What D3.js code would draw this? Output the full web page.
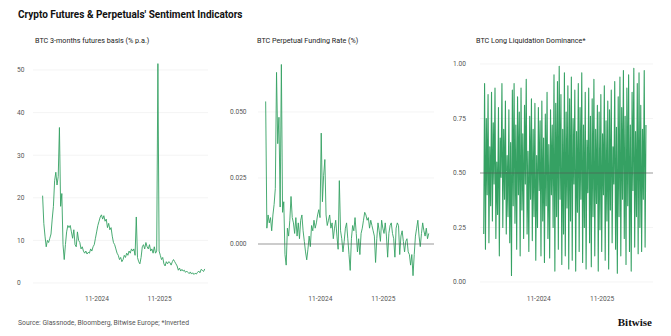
<!DOCTYPE html>
<html>
<head>
<meta charset="utf-8">
<script src="https://cdn.jsdelivr.net/npm/d3@7"></script>
<style>
  body { margin: 0; background: #fff; }
  svg text { font-family: Roboto, "Noto Sans", sans-serif; }
</style>
</head>
<body>
<div id="chart"></div>
<script>
// dates: first observation and step between observations (days)
const startDate = new Date(2023, 11, 20);
const xDomain = [new Date(2023, 9, 25), new Date(2026, 7, 10)];
const xTickDates = [new Date(2024, 10, 1), new Date(2025, 10, 1)];
const xTickLabels = ["11-2024", "11-2025"];

// BTC 3-months futures basis (% p.a.), weekly
const basisStep = 7;
const basisValues = [
  20.5, 14, 11, 8.5, 10, 9.5, 10.5, 11.5, 15, 18,
  24, 26, 23, 25, 36.5, 18, 21, 9, 5.5, 9,
  12, 13.5, 13, 13.5, 12, 10.5, 12.5, 9, 8.5, 12,
  10, 9.5, 8, 8.5, 7.5, 7, 7.5, 6.8, 7.2, 7,
  8, 7.5, 8.5, 9, 10.5, 12, 13.5, 14.5, 15.5, 16,
  15, 15.8, 14.5, 15, 13, 14, 12.5, 13, 11, 9.5,
  9, 8, 7, 6.5, 5.5, 6, 5, 5.5, 6.5, 6,
  7, 6.5, 7.5, 7, 8, 7.5, 8, 6.5, 15.5, 6,
  5, 4.5, 6, 8.5, 9, 8, 9.5, 8.5, 8, 9,
  7.5, 8, 7, 8.5, 7, 7.5, 51.5, 7.5, 6.5, 5.5,
  6, 4.5, 4, 5, 4.5, 5, 4.8, 4.2, 5, 5.5,
  5, 4.5, 4, 3, 3.5, 2.8, 3.2, 2.8, 3, 2.5,
  2.8, 2.5, 2.2, 2.6, 2.1, 2.4, 2.0, 2.3, 2.1, 2.5,
  2.8, 2.4, 3.2, 3.0, 2.7, 3.3
];
const basisTicks = [0, 10, 20, 30, 40, 50];

// BTC perpetual funding rate (%), weekly
const fundingStep = 7;
const fundingValues = [
  0.054, 0.006, 0.011, 0.008, 0.010, 0.005, 0.011, 0.015, 0.021, 0.065,
  0.038, 0.048, 0.014, 0.068, 0.012, 0.016, -0.004, -0.008, 0.006, 0.003,
  0.009, 0.018, 0.010, 0.008, 0.004, 0.010, 0.003, 0.008, 0.002, 0.009,
  0.011, 0.005, 0.001, -0.003, -0.006, -0.002, 0.003, -0.001, 0.007, 0.005,
  0.009, 0.006, 0.008, 0.011, 0.013, 0.010, 0.042, 0.016, 0.026, 0.032,
  0.011, 0.007, 0.009, 0.011, 0.006, 0.008, 0.002, 0.006, 0.009, 0.003,
  -0.002, 0.024, 0.005, 0.002, -0.003, 0.001, 0.006, 0.008, 0.002, -0.004,
  -0.010, 0.002, 0.007, 0.005, 0.010, 0.004, -0.003, 0.002, -0.004, 0.004,
  0.006, 0.009, 0.012, 0.011, 0.009, 0.010, 0.006, 0.009, 0.007, 0.005,
  0.003, -0.007, 0.002, 0.008, 0.005, 0.001, 0.009, 0.006, 0.004, 0.008,
  0.003, -0.005, 0.004, 0.007, 0.008, 0.004, 0.002, -0.005, 0.006, 0.008,
  0.007, -0.004, 0.003, 0.005, 0.001, -0.003, 0.001, 0.002, -0.003, -0.004,
  -0.008, -0.004, -0.012, -0.004, 0.003, 0.006, 0.009, 0.003, -0.001, 0.004,
  0.008, 0.005, 0.003, 0.006, 0.002, 0.004
];
const fundingTicks = [0, 0.025, 0.05];

// BTC long liquidation dominance (inverted), every 5 days
const liqStep = 5;
const liqValues = [
  0.22, 0.91, 0.15, 0.75, 0.40, 0.86, 0.18, 0.62, 0.35, 0.87,
  0.28, 0.73, 0.45, 0.89, 0.20, 0.55, 0.31, 0.80, 0.12, 0.66,
  0.48, 0.91, 0.25, 0.70, 0.38, 0.83, 0.22, 0.58, 0.30, 0.79,
  0.18, 0.64, 0.03, 0.88, 0.35, 0.91, 0.27, 0.72, 0.15, 0.85,
  0.40, 0.78, 0.12, 0.89, 0.33, 0.68, 0.20, 0.81, 0.45, 0.93,
  0.22, 0.60, 0.14, 0.76, 0.38, 0.84, 0.19, 0.70, 0.30, 0.82,
  0.10, 0.58, 0.25, 0.80, 0.42, 0.74, 0.12, 0.83, 0.28, 0.66,
  0.09, 0.77, 0.35, 0.87, 0.20, 0.63, 0.11, 0.79, 0.40, 0.72,
  0.25, 0.95, 0.05, 0.82, 0.30, 0.92, 0.15, 0.99, 0.38, 0.86,
  0.08, 0.70, 0.22, 0.96, 0.12, 0.78, 0.34, 0.90, 0.06, 0.84,
  0.28, 0.94, 0.10, 0.75, 0.45, 0.88, 0.05, 0.69, 0.32, 0.91,
  0.14, 0.80, 0.38, 0.96, 0.09, 0.72, 0.25, 0.87, 0.06, 0.65,
  0.41, 0.89, 0.18, 0.76, 0.07, 0.84, 0.30, 0.93, 0.12, 0.70,
  0.36, 0.81, 0.05, 0.78, 0.24, 0.86, 0.14, 0.68, 0.40, 0.90,
  0.10, 0.74, 0.28, 0.83, 0.06, 0.79, 0.33, 0.88, 0.18, 0.62,
  0.45, 0.92, 0.15, 0.71, 0.04, 0.85, 0.30, 0.94, 0.12, 0.80,
  0.38, 0.97, 0.20, 0.76, 0.08, 0.89, 0.35, 0.95, 0.14, 0.72,
  0.05, 0.87, 0.42, 0.98, 0.16, 0.69, 0.30, 0.91, 0.13, 0.96,
  0.25, 0.81, 0.14, 0.70, 0.38, 0.97, 0.16, 0.72
];
const liqTicks = [0, 0.25, 0.5, 0.75, 1];

const W = 671, H = 336;
const green = "#35a163";

var svg = d3.select("#chart").append("svg")
  .attr("width", W)
  .attr("height", H);

svg.append("text")
  .attr("x", 18).attr("y", 18)
  .attr("font-size", 10).attr("font-weight", 700)
  .attr("fill", "#111")
  .text("Crypto Futures & Perpetuals' Sentiment Indicators");

function toSeries(values, step) {
  return values.map(function (v, i) {
    return { date: d3.timeDay.offset(startDate, i * step), value: v };
  });
}

function drawPanel(p) {
  var x = d3.scaleTime().domain(xDomain).range(p.xRange);
  var y = d3.scaleLinear().domain(p.yDomain).range(p.yRange);
  var g = svg.append("g");

  g.append("text")
    .attr("x", p.titleX).attr("y", 43)
    .attr("font-size", 7.2).attr("fill", "#222")
    .text(p.title);

  // light gridlines (reference line drawn later, above the series)
  g.selectAll(".grid").data(p.ticks.filter(function (d) { return d !== p.refLine; }))
    .enter().append("line")
    .attr("x1", p.gridX[0]).attr("x2", p.gridX[1])
    .attr("y1", function (d) { return y(d); })
    .attr("y2", function (d) { return y(d); })
    .attr("stroke", "#efefef")
    .attr("stroke-width", 0.7);

  // y tick labels
  g.selectAll(".ylab").data(p.ticks).enter().append("text")
    .attr("x", p.labelX)
    .attr("y", function (d) { return y(d) + 2.3; })
    .attr("font-size", 6.6).attr("fill", "#555")
    .text(function (d) { return p.fmt(d); });

  // x tick labels
  g.selectAll(".xlab").data(xTickDates).enter().append("text")
    .attr("x", function (d) { return x(d); })
    .attr("y", 301)
    .attr("text-anchor", "middle")
    .attr("font-size", 6.6).attr("fill", "#555")
    .text(function (d, i) { return xTickLabels[i]; });

  var line = d3.line()
    .x(function (d) { return x(d.date); })
    .y(function (d) { return y(d.value); });

  g.append("path")
    .datum(p.data)
    .attr("d", line)
    .attr("fill", "none")
    .attr("stroke", green)
    .attr("stroke-width", p.lineWidth)
    .attr("stroke-linejoin", "round");

  if (p.refLine !== null) {
    g.append("line")
      .attr("x1", p.gridX[0]).attr("x2", p.gridX[1])
      .attr("y1", y(p.refLine)).attr("y2", y(p.refLine))
      .attr("stroke", "#555")
      .attr("stroke-opacity", 0.75)
      .attr("stroke-width", 0.8);
  }
}

drawPanel({
  title: "BTC 3-months futures basis (% p.a.)",
  titleX: 35,
  data: toSeries(basisValues, basisStep),
  xRange: [33, 208], gridX: [33, 208],
  yDomain: [0, 50], yRange: [283, 70],
  ticks: basisTicks, labelX: 17, refLine: null,
  fmt: d3.format("d"), lineWidth: 0.9
});

drawPanel({
  title: "BTC Perpetual Funding Rate (%)",
  titleX: 257,
  data: toSeries(fundingValues, fundingStep),
  xRange: [256, 432], gridX: [258, 434],
  yDomain: [0, 0.05], yRange: [244, 112],
  ticks: fundingTicks, labelX: 230, refLine: 0,
  fmt: d3.format(".3f"), lineWidth: 0.9
});

drawPanel({
  title: "BTC Long Liquidation Dominance*",
  titleX: 476,
  data: toSeries(liqValues, liqStep),
  xRange: [474, 651], gridX: [480, 653],
  yDomain: [0, 1], yRange: [282, 64],
  ticks: liqTicks, labelX: 453, refLine: 0.5,
  fmt: d3.format(".2f"), lineWidth: 1.1
});

svg.append("text")
  .attr("x", 18).attr("y", 325)
  .attr("font-size", 6.8).attr("fill", "#555")
  .text("Source: Glassnode, Bloomberg, Bitwise Europe; *Inverted");

svg.append("text")
  .attr("x", 652).attr("y", 326)
  .attr("text-anchor", "end")
  .style("font-family", "'Liberation Serif', 'DejaVu Serif', serif")
  .attr("font-size", 11).attr("font-weight", 700)
  .attr("fill", "#111")
  .text("Bitwise");
</script>
</body>
</html>
